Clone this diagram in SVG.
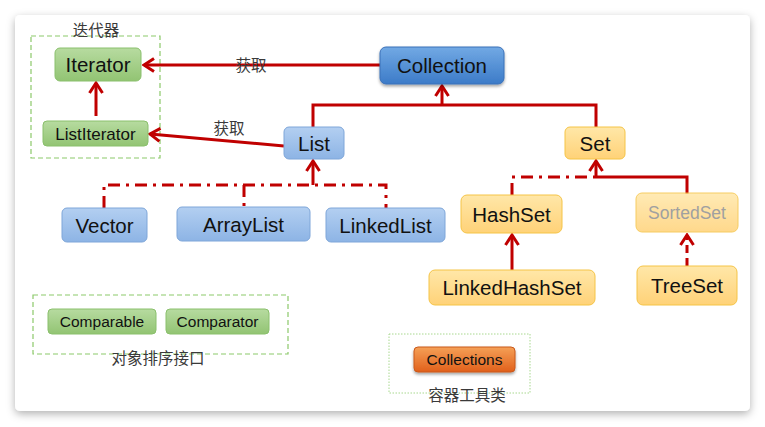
<svg xmlns="http://www.w3.org/2000/svg" width="765" height="427" viewBox="0 0 765 427">
<defs>
<style>
.lbl{font-family:"Liberation Sans",Arial,sans-serif;fill:#111;text-anchor:middle}
.cn{font-family:"Noto Sans CJK SC","Noto Sans",sans-serif;fill:#3a3a3a;text-anchor:middle;font-size:15.5px}
.con{fill:none;stroke:#c00000;stroke-width:3}
.dd{stroke-dasharray:12 6 3 6}
.grp{fill:none;stroke:#8cc96a;stroke-width:1.2;stroke-dasharray:5 3}
</style>
<linearGradient id="gGreen" x1="0" y1="0" x2="0" y2="1"><stop offset="0" stop-color="#b7dba0"/><stop offset="1" stop-color="#92c473"/></linearGradient>
<linearGradient id="gBlue" x1="0" y1="0" x2="0" y2="1"><stop offset="0" stop-color="#72a9e4"/><stop offset="1" stop-color="#3c7bc8"/></linearGradient>
<linearGradient id="gLBlue" x1="0" y1="0" x2="0" y2="1"><stop offset="0" stop-color="#b3cff1"/><stop offset="1" stop-color="#8db4e5"/></linearGradient>
<linearGradient id="gYel" x1="0" y1="0" x2="0" y2="1"><stop offset="0" stop-color="#ffe7a8"/><stop offset="1" stop-color="#ffd278"/></linearGradient>
<linearGradient id="gOr" x1="0" y1="0" x2="0" y2="1"><stop offset="0" stop-color="#f5a057"/><stop offset="1" stop-color="#e1601b"/></linearGradient>
<filter id="card" x="-5%" y="-5%" width="110%" height="115%"><feDropShadow dx="0" dy="3" stdDeviation="4" flood-color="#000" flood-opacity="0.3"/></filter>
<filter id="sh" x="-10%" y="-20%" width="120%" height="150%"><feDropShadow dx="0" dy="2" stdDeviation="1.5" flood-color="#000" flood-opacity="0.35"/></filter>
<marker id="ah" viewBox="0 0 14 16" refX="12" refY="8" markerWidth="14" markerHeight="16" markerUnits="userSpaceOnUse" orient="auto">
<path d="M2,1.5 L12,8 L2,14.5" fill="none" stroke="#c00000" stroke-width="3"/>
</marker>
</defs>
<rect x="0" y="0" width="765" height="427" fill="#fff"/>
<rect x="15" y="15" width="735" height="396" rx="5" fill="#fff" filter="url(#card)"/>

<g id="group-iterator">
<rect class="grp" x="31" y="36" width="129" height="122"/>
<text class="cn" x="96" y="36" font-size="17">迭代器</text>
</g>
<g id="group-sort">
<rect class="grp" x="33" y="295" width="255" height="59"/>
<text class="cn" x="158" y="363.5">对象排序接口</text>
</g>
<g id="group-tools">
<rect x="389" y="334" width="141" height="59" fill="none" stroke="#a8d88e" stroke-width="1" stroke-dasharray="1.5 1.5"/>
<text class="cn" x="467" y="400.5">容器工具类</text>
</g>

<g id="connectors">
<line class="con" x1="380" y1="65" x2="144" y2="65" marker-end="url(#ah)"/>
<line class="con" x1="284" y1="146" x2="150" y2="134" marker-end="url(#ah)"/>
<line class="con" x1="96" y1="116" x2="96" y2="83" marker-end="url(#ah)"/>
<polyline class="con" points="313,127 313,105 596,105 596,127"/>
<line class="con" x1="442" y1="105" x2="442" y2="86" marker-end="url(#ah)"/>
<path class="con dd" d="M104,208 V185 H386 V208"/>
<path class="con dd" d="M244,185 V208"/>
<line class="con" x1="313" y1="185" x2="313" y2="161" marker-end="url(#ah)"/>
<path class="con dd" d="M512,195 V177 H596"/>
<path class="con" d="M596,177 H687 V194"/>
<line class="con" x1="596" y1="177" x2="596" y2="161" marker-end="url(#ah)"/>
<line class="con" x1="512" y1="270" x2="512" y2="235" marker-end="url(#ah)"/>
<line class="con" x1="687" y1="266" x2="687" y2="235" stroke-dasharray="8 5" marker-end="url(#ah)"/>
<text class="cn" x="251" y="70.5" font-size="16">获取</text>
<text class="cn" x="229" y="134" font-size="16">获取</text>
</g>

<g id="node-iterator">
<rect x="55" y="48" width="86" height="33" rx="5" fill="url(#gGreen)" stroke="#8ac06c"/>
<text class="lbl" x="98" y="72" font-size="20.5">Iterator</text>
</g>
<g id="node-listiterator">
<rect x="43" y="121" width="105" height="25" rx="4" fill="url(#gGreen)" stroke="#8ac06c"/>
<text class="lbl" x="95.5" y="139.5" font-size="17">ListIterator</text>
</g>
<g id="node-collection">
<rect x="380" y="47" width="124" height="37" rx="6" fill="url(#gBlue)" stroke="#3a70b8" filter="url(#sh)"/>
<text class="lbl" x="442" y="73" font-size="20.5">Collection</text>
</g>
<g id="node-list">
<rect x="284" y="127" width="60" height="32" rx="5" fill="url(#gLBlue)" stroke="#7ea6d9"/>
<text class="lbl" x="314" y="150.5" font-size="20.5">List</text>
</g>
<g id="node-set">
<rect x="565" y="127" width="60" height="32" rx="5" fill="url(#gYel)" stroke="#f5c447"/>
<text class="lbl" x="595" y="150.5" font-size="20.5">Set</text>
</g>
<g id="node-vector">
<rect x="62" y="208" width="85" height="34" rx="5" fill="url(#gLBlue)" stroke="#7ea6d9"/>
<text class="lbl" x="104.5" y="232.5" font-size="20.5">Vector</text>
</g>
<g id="node-arraylist">
<rect x="177" y="207" width="133" height="34" rx="5" fill="url(#gLBlue)" stroke="#7ea6d9"/>
<text class="lbl" x="243.5" y="231.5" font-size="20.5">ArrayList</text>
</g>
<g id="node-linkedlist">
<rect x="326" y="208" width="119" height="34" rx="5" fill="url(#gLBlue)" stroke="#7ea6d9"/>
<text class="lbl" x="385.5" y="232.5" font-size="20.5">LinkedList</text>
</g>
<g id="node-hashset">
<rect x="461" y="195" width="101" height="38" rx="6" fill="url(#gYel)" stroke="#f5c447"/>
<text class="lbl" x="511.5" y="221.5" font-size="20.5">HashSet</text>
</g>
<g id="node-sortedset">
<rect x="636" y="193" width="102" height="39" rx="6" fill="url(#gYel)" stroke="#f5c447" opacity="0.85"/>
<text class="lbl" x="687" y="219" font-size="17.5" style="fill:#a0a0a0">SortedSet</text>
</g>
<g id="node-linkedhashset">
<rect x="429" y="270" width="166" height="35" rx="6" fill="url(#gYel)" stroke="#f5c447"/>
<text class="lbl" x="512" y="295" font-size="20.5">LinkedHashSet</text>
</g>
<g id="node-treeset">
<rect x="637" y="266" width="100" height="39" rx="6" fill="url(#gYel)" stroke="#f5c447"/>
<text class="lbl" x="687" y="293" font-size="20.5">TreeSet</text>
</g>
<g id="node-comparable">
<rect x="48" y="309" width="108" height="25" rx="4" fill="url(#gGreen)" stroke="#8ac06c"/>
<text class="lbl" x="102" y="327" font-size="15.5">Comparable</text>
</g>
<g id="node-comparator">
<rect x="166" y="309" width="103" height="25" rx="4" fill="url(#gGreen)" stroke="#8ac06c"/>
<text class="lbl" x="217.5" y="327" font-size="15.5">Comparator</text>
</g>
<g id="node-collections">
<rect x="414" y="347" width="101" height="25" rx="4" fill="url(#gOr)" stroke="#c9591a" filter="url(#sh)"/>
<text class="lbl" x="464.5" y="365" font-size="15.5">Collections</text>
</g>
</svg>
